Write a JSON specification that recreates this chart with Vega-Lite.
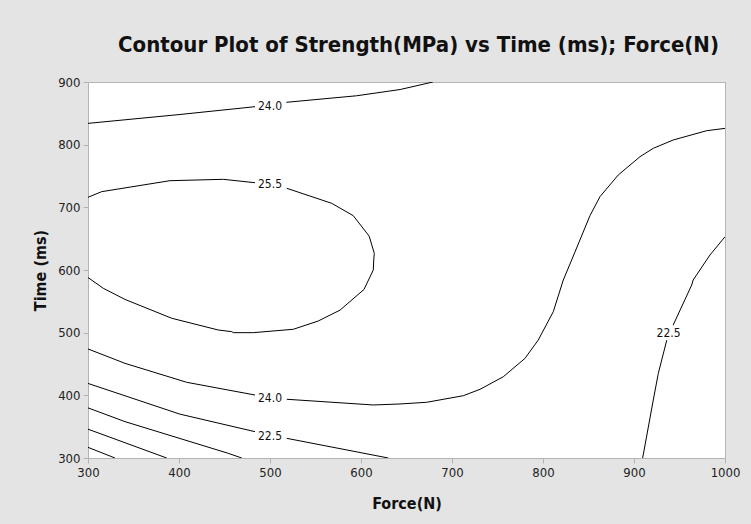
{
  "$schema": "https://vega.github.io/schema/vega-lite/v6.json",
  "width": 637,
  "height": 376,
  "autosize": {"type": "none"},
  "padding": {"left": 88, "top": 82, "right": 26, "bottom": 66},
  "background": "#e4e4e4",
  "title": {
    "text": "Contour Plot of Strength(MPa) vs Time (ms); Force(N)",
    "font": "DejaVu Sans Condensed",
    "fontSize": 22,
    "fontWeight": "bold",
    "color": "#111111",
    "anchor": "middle",
    "dx": 12,
    "offset": 19
  },
  "config": {
    "view": {"stroke": "#b4b4b4", "fill": "white"},
    "axis": {
      "labelFont": "DejaVu Sans Condensed",
      "labelFontSize": 13,
      "labelColor": "#222222",
      "labelFlush": false,
      "titleFont": "DejaVu Sans Condensed",
      "titleFontSize": 16,
      "titleFontWeight": "bold",
      "titleColor": "#111111",
      "domainColor": "#b4b4b4",
      "tickColor": "#b4b4b4",
      "tickSize": 5,
      "grid": false
    }
  },
  "datasets": {
    "lines": [
      {"seg": "A1", "i": 1, "F": 300, "T": 834},
      {"seg": "A1", "i": 2, "F": 400, "T": 848},
      {"seg": "A1", "i": 3, "F": 483.5, "T": 860.6},
      {"seg": "A2", "i": 1, "F": 518, "T": 867.6},
      {"seg": "A2", "i": 2, "F": 595, "T": 878},
      {"seg": "A2", "i": 3, "F": 643, "T": 888},
      {"seg": "A2", "i": 4, "F": 679, "T": 900},
      {"seg": "B1", "i": 1, "F": 300, "T": 716},
      {"seg": "B1", "i": 2, "F": 315, "T": 725},
      {"seg": "B1", "i": 3, "F": 390, "T": 742.5},
      {"seg": "B1", "i": 4, "F": 448.7, "T": 744.7},
      {"seg": "B1", "i": 5, "F": 483.5, "T": 739.3},
      {"seg": "B2", "i": 1, "F": 518.4, "T": 730.4},
      {"seg": "B2", "i": 2, "F": 567.8, "T": 706.4},
      {"seg": "B2", "i": 3, "F": 591.5, "T": 686.7},
      {"seg": "B2", "i": 4, "F": 609, "T": 654},
      {"seg": "B2", "i": 5, "F": 614.6, "T": 626.6},
      {"seg": "B2", "i": 6, "F": 614, "T": 616},
      {"seg": "B2", "i": 7, "F": 613.5, "T": 600},
      {"seg": "B2", "i": 8, "F": 603.3, "T": 569},
      {"seg": "B2", "i": 9, "F": 577, "T": 536},
      {"seg": "B2", "i": 10, "F": 553, "T": 518.6},
      {"seg": "B2", "i": 11, "F": 525.6, "T": 505.4},
      {"seg": "B2", "i": 12, "F": 481.6, "T": 500},
      {"seg": "B2", "i": 13, "F": 459.7, "T": 500},
      {"seg": "B2", "i": 14, "F": 458, "T": 501.6},
      {"seg": "B2", "i": 15, "F": 443, "T": 504.3},
      {"seg": "B2", "i": 16, "F": 392, "T": 523},
      {"seg": "B2", "i": 17, "F": 340.7, "T": 553},
      {"seg": "B2", "i": 18, "F": 316.8, "T": 570.8},
      {"seg": "B2", "i": 19, "F": 300, "T": 588},
      {"seg": "C1", "i": 1, "F": 300, "T": 474},
      {"seg": "C1", "i": 2, "F": 340.7, "T": 451},
      {"seg": "C1", "i": 3, "F": 408.5, "T": 420.8},
      {"seg": "C1", "i": 4, "F": 483.5, "T": 400.5},
      {"seg": "C2", "i": 1, "F": 518.4, "T": 393.7},
      {"seg": "C2", "i": 2, "F": 613.5, "T": 384.6},
      {"seg": "C2", "i": 3, "F": 642.9, "T": 386.2},
      {"seg": "C2", "i": 4, "F": 672.2, "T": 388.9},
      {"seg": "C2", "i": 5, "F": 712.4, "T": 399.4},
      {"seg": "C2", "i": 6, "F": 730.8, "T": 409.6},
      {"seg": "C2", "i": 7, "F": 756.4, "T": 429.7},
      {"seg": "C2", "i": 8, "F": 780.2, "T": 459},
      {"seg": "C2", "i": 9, "F": 794.8, "T": 488.3},
      {"seg": "C2", "i": 10, "F": 811.3, "T": 533.5},
      {"seg": "C2", "i": 11, "F": 822.3, "T": 584},
      {"seg": "C2", "i": 12, "F": 831.5, "T": 616},
      {"seg": "C2", "i": 13, "F": 851.6, "T": 686.7},
      {"seg": "C2", "i": 14, "F": 862.6, "T": 717},
      {"seg": "C2", "i": 15, "F": 882.7, "T": 751.6},
      {"seg": "C2", "i": 16, "F": 906.6, "T": 780.8},
      {"seg": "C2", "i": 17, "F": 921.2, "T": 794.2},
      {"seg": "C2", "i": 18, "F": 943.2, "T": 807.5},
      {"seg": "C2", "i": 19, "F": 979.9, "T": 822.3},
      {"seg": "C2", "i": 20, "F": 1000, "T": 826},
      {"seg": "D1", "i": 1, "F": 300, "T": 419},
      {"seg": "D1", "i": 2, "F": 401, "T": 370},
      {"seg": "D1", "i": 3, "F": 483.5, "T": 342},
      {"seg": "D2", "i": 1, "F": 518.4, "T": 331.4},
      {"seg": "D2", "i": 2, "F": 630, "T": 300},
      {"seg": "E", "i": 1, "F": 300, "T": 380},
      {"seg": "E", "i": 2, "F": 340.7, "T": 358},
      {"seg": "E", "i": 3, "F": 453, "T": 308},
      {"seg": "E", "i": 4, "F": 469, "T": 300},
      {"seg": "G1", "i": 1, "F": 300, "T": 346},
      {"seg": "G1", "i": 2, "F": 386.5, "T": 300},
      {"seg": "G2", "i": 1, "F": 300, "T": 317},
      {"seg": "G2", "i": 2, "F": 329.7, "T": 300},
      {"seg": "H1", "i": 1, "F": 1000, "T": 653},
      {"seg": "H1", "i": 2, "F": 983.5, "T": 624},
      {"seg": "H1", "i": 3, "F": 965, "T": 584},
      {"seg": "H1", "i": 4, "F": 963.4, "T": 576},
      {"seg": "H1", "i": 5, "F": 943, "T": 512},
      {"seg": "H2", "i": 1, "F": 936, "T": 488},
      {"seg": "H2", "i": 2, "F": 926.7, "T": 435},
      {"seg": "H2", "i": 3, "F": 921.2, "T": 392.6},
      {"seg": "H2", "i": 4, "F": 909.5, "T": 300}
    ],
    "labels": [
      {"F": 500, "T": 862, "label": "24.0"},
      {"F": 500, "T": 737, "label": "25.5"},
      {"F": 500, "T": 395.3, "label": "24.0"},
      {"F": 500, "T": 335.6, "label": "22.5"},
      {"F": 938, "T": 499, "label": "22.5"}
    ]
  },
  "layer": [
    {
      "data": {"name": "lines"},
      "mark": {"type": "line", "color": "#000000", "strokeWidth": 1, "clip": true},
      "encoding": {
        "x": {
          "field": "F", "type": "quantitative",
          "scale": {"domain": [300, 1000], "nice": false, "zero": false},
          "axis": {"values": [300, 400, 500, 600, 700, 800, 900, 1000], "format": "d", "title": "Force(N)", "titlePadding": 16, "labelPadding": 3}
        },
        "y": {
          "field": "T", "type": "quantitative",
          "scale": {"domain": [300, 900], "nice": false, "zero": false},
          "axis": {"values": [300, 400, 500, 600, 700, 800, 900], "format": "d", "title": "Time (ms)", "titlePadding": 9, "labelPadding": 3}
        },
        "detail": {"field": "seg"},
        "order": {"field": "i", "type": "quantitative"}
      }
    },
    {
      "data": {"name": "labels"},
      "mark": {"type": "text", "font": "DejaVu Sans Condensed", "fontSize": 12, "color": "#111111", "align": "center", "baseline": "middle"},
      "encoding": {
        "x": {"field": "F", "type": "quantitative"},
        "y": {"field": "T", "type": "quantitative"},
        "text": {"field": "label"}
      }
    }
  ]
}
